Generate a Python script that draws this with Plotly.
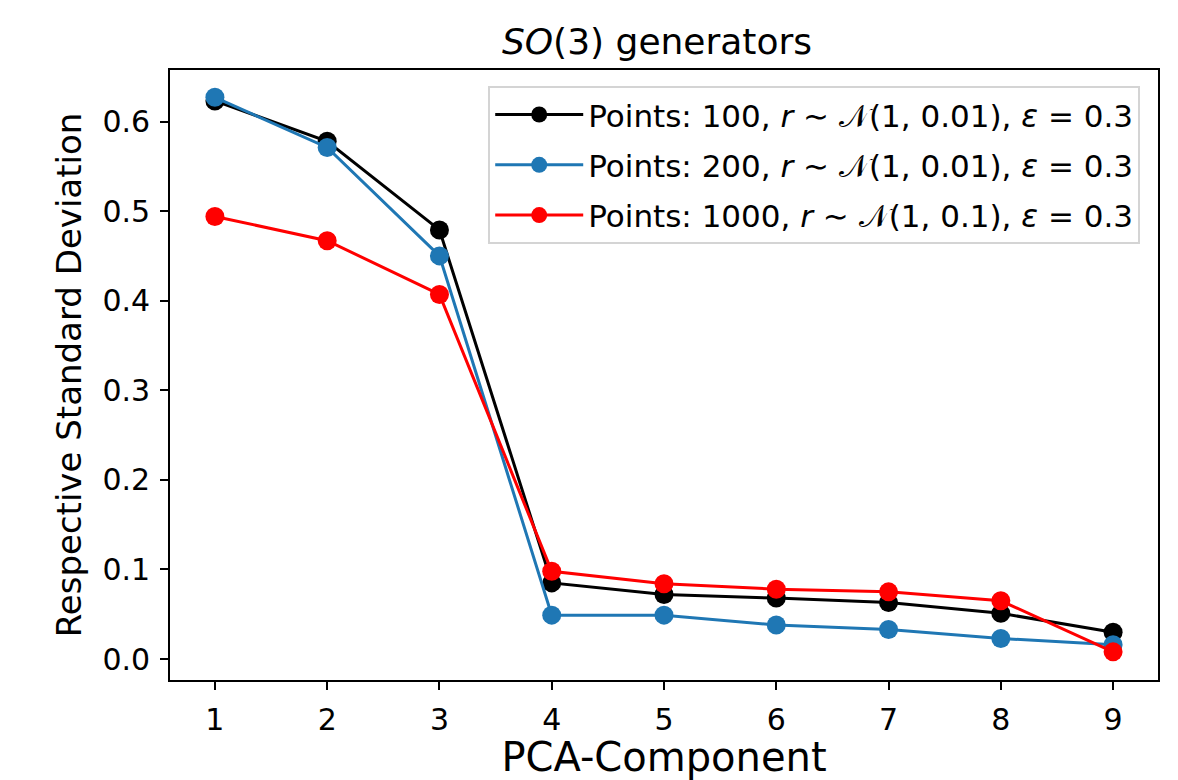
import plotly.graph_objects as go

components = [1, 2, 3, 4, 5, 6, 7, 8, 9]
pts100 = [0.623, 0.578, 0.479, 0.085, 0.072, 0.068, 0.063, 0.051, 0.030]
pts200 = [0.627, 0.571, 0.450, 0.049, 0.049, 0.038, 0.033, 0.023, 0.016]
pts1000 = [0.494, 0.467, 0.407, 0.098, 0.084, 0.078, 0.075, 0.065, 0.008]
y_ticks = [0.0, 0.1, 0.2, 0.3, 0.4, 0.5, 0.6]

names = [
    "Points: 100, <i>r</i> ∼ 𝒩(1, 0.01), <i>ε</i> = 0.3",
    "Points: 200, <i>r</i> ∼ 𝒩(1, 0.01), <i>ε</i> = 0.3",
    "Points: 1000, <i>r</i> ∼ 𝒩(1, 0.1), <i>ε</i> = 0.3",
]
colors = ["#000000", "#1f77b4", "#ff0000"]
series = [pts100, pts200, pts1000]

fig = go.Figure()
for i, (ys, name, c) in enumerate(zip(series, names, colors)):
    fig.add_trace(go.Scatter(
        x=components, y=ys, name=name, mode="lines+markers",
        legendgroup=f"g{i}",
        line=dict(color=c, width=3),
        marker=dict(color=c, size=19),
    ))

font = "DejaVu Sans, Noto Sans, sans-serif"
W, H = 1170, 772
fig.update_layout(
    width=W, height=H,
    paper_bgcolor="white", plot_bgcolor="white",
    margin=dict(l=162, r=20, t=62, b=100),
    font=dict(family=font, color="black", size=30),
    title=dict(text="<i>SO</i>(3) generators", x=649 / W, xanchor="center",
               y=1 - 33 / H, yanchor="middle", font=dict(size=36)),
    legend=dict(x=0.982, y=0.974, xanchor="right", yanchor="top",
                bordercolor="#d4d4d4", borderwidth=2, bgcolor="rgba(255,255,255,0.8)",
                font=dict(size=31), itemwidth=88, tracegroupgap=7),
    showlegend=True,
)
fig.update_xaxes(
    range=[0.6, 9.4], tickmode="array", tickvals=components,
    ticktext=[str(c) for c in components],
    showgrid=False, zeroline=False, showline=True, linecolor="black", linewidth=1.8,
    mirror=True, ticks="outside", ticklen=8, tickwidth=1.8, tickcolor="black",
    tickfont=dict(size=30), ticklabelstandoff=4,
    title=dict(text="PCA-Component", font=dict(size=40), standoff=2),
)
fig.update_yaxes(
    range=[-0.0234, 0.6575], tickmode="array",
    tickvals=y_ticks, ticktext=[f"{v:.1f}" for v in y_ticks],
    showgrid=False, zeroline=False, showline=True, linecolor="black", linewidth=1.8,
    mirror=True, ticks="outside", ticklen=8, tickwidth=1.8, tickcolor="black",
    tickfont=dict(size=30), ticklabelstandoff=4,
    title=dict(text="Respective Standard Deviation", font=dict(size=34), standoff=10),
)
fig.write_html("out.html")
